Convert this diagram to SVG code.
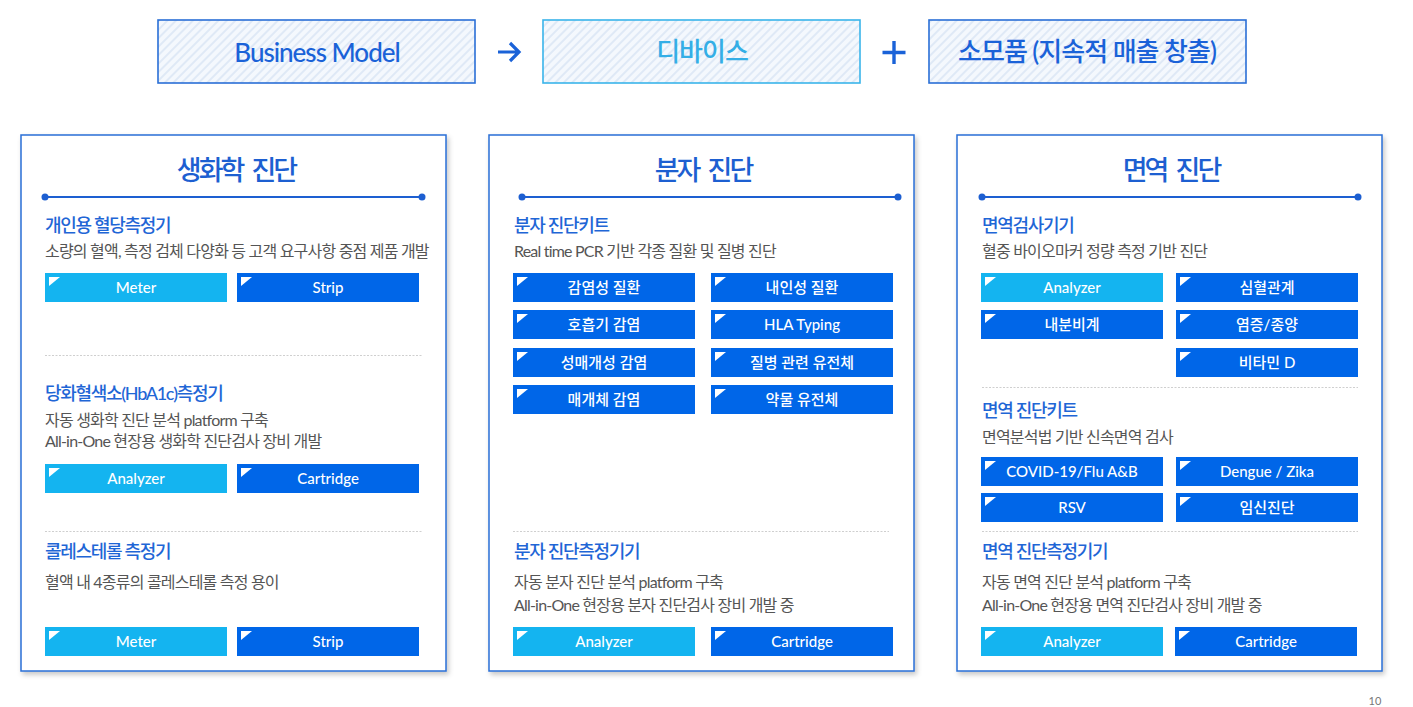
<svg xmlns="http://www.w3.org/2000/svg" width="1413" height="707" viewBox="0 0 1413 707">
<defs>
  <pattern id="hatch" patternUnits="userSpaceOnUse" width="6" height="6" patternTransform="rotate(45)">
    <rect width="6" height="6" fill="#f4f8fd"/>
    <rect width="2" height="6" fill="#dfe9f6"/>
  </pattern>
  <filter id="shadow" x="-5%" y="-5%" width="112%" height="112%">
    <feDropShadow dx="2" dy="3" stdDeviation="2.5" flood-color="#000" flood-opacity="0.22"/>
  </filter>
  <path id="tri" d="M4 4 H15 L4 13 Z" fill="#ffffff"/>
</defs>
<style>
  .top{stroke-width:1.6}
  .toptxt{font-family:Lato,"Noto Sans CJK KR",sans-serif;font-size:26px;font-weight:500;text-anchor:middle;letter-spacing:-1px}
  .panel{fill:#ffffff;stroke:#2a6fd6;stroke-width:1.5}
  .title{font-family:"Noto Sans CJK KR",sans-serif;font-size:27px;font-weight:500;fill:#1d5fd1;text-anchor:middle;letter-spacing:-3px;word-spacing:6px}
  .rule{stroke:#1d5fd1;stroke-width:2}
  .dot{fill:#1d5fd1}
  .hd{font-family:Lato,"Noto Sans CJK KR",sans-serif;font-size:18px;font-weight:500;fill:#1f66d6;letter-spacing:-1.3px}
  .ds{font-family:Lato,"Noto Sans CJK KR",sans-serif;font-size:16px;fill:#555555;letter-spacing:-0.8px}
  .sep{stroke:#cfcfcf;stroke-width:1;stroke-dasharray:2 1.5}
  .bl{fill:#14b4f0}
  .bd{fill:#0066e8}
  .bt{font-family:Lato,"Noto Sans CJK KR",sans-serif;font-size:15px;font-weight:500;fill:#ffffff;text-anchor:middle}
</style>
<rect width="1413" height="707" fill="#ffffff"/>

<!-- top row -->
<g id="node-business-model">
  <rect class="top" x="158" y="20" width="317" height="63" fill="url(#hatch)" stroke="#2a6fd6"/>
  <text class="toptxt" x="317" y="62" fill="#1a62d8">Business Model</text>
</g>
<g id="node-device">
  <rect class="top" x="543" y="20" width="317" height="63" fill="url(#hatch)" stroke="#3ab4ea"/>
  <text class="toptxt" x="702" y="61" fill="#34aee6">디바이스</text>
</g>
<g id="node-consumables">
  <rect class="top" x="929" y="20" width="317" height="63" fill="url(#hatch)" stroke="#2a6fd6"/>
  <text class="toptxt" x="1087" y="61" fill="#1a62d8">소모품 (지속적 매출 창출)</text>
</g>
<g id="connectors">
  <path d="M498 52 H519 M510 43 L519 52 L510 61" fill="none" stroke="#1a62d8" stroke-width="3.2"/>
  <path d="M894 41 V64 M882.5 52.5 H905.5" fill="none" stroke="#1a62d8" stroke-width="3.4"/>
</g>

<!-- panel 1 -->
<g id="panel-biochem">
  <rect class="panel" x="21" y="135" width="425" height="536" filter="url(#shadow)"/>
  <text class="title" x="236" y="180">생화학 진단</text>
  <line class="rule" x1="45" y1="197" x2="422" y2="197"/>
  <circle class="dot" cx="45" cy="197" r="3.5"/><circle class="dot" cx="422" cy="197" r="3.5"/>

  <text class="hd" x="45" y="232">개인용 혈당측정기</text>
  <text class="ds" x="45" y="257">소량의 혈액, 측정 검체 다양화 등 고객 요구사항 중점 제품 개발</text>
  <g id="btn-p1-meter"><rect class="bl" x="45" y="273" width="182" height="29"/><use href="#tri" x="45" y="273"/><text class="bt" x="136" y="293">Meter</text></g>
  <g id="btn-p1-strip"><rect class="bd" x="237" y="273" width="182" height="29"/><use href="#tri" x="237" y="273"/><text class="bt" x="328" y="293">Strip</text></g>

  <line class="sep" x1="45" y1="355.5" x2="422" y2="355.5"/>
  <text class="hd" x="45" y="400">당화혈색소(HbA1c)측정기</text>
  <text class="ds" x="45" y="426">자동 생화학 진단 분석 platform 구축</text>
  <text class="ds" x="45" y="447">All-in-One 현장용 생화학 진단검사 장비 개발</text>
  <g id="btn-p1-analyzer"><rect class="bl" x="45" y="464" width="182" height="29"/><use href="#tri" x="45" y="464"/><text class="bt" x="136" y="484">Analyzer</text></g>
  <g id="btn-p1-cartridge"><rect class="bd" x="237" y="464" width="182" height="29"/><use href="#tri" x="237" y="464"/><text class="bt" x="328" y="484">Cartridge</text></g>

  <line class="sep" x1="45" y1="531.5" x2="422" y2="531.5"/>
  <text class="hd" x="45" y="558">콜레스테롤 측정기</text>
  <text class="ds" x="45" y="588">혈액 내 4종류의 콜레스테롤 측정 용이</text>
  <g id="btn-p1-meter2"><rect class="bl" x="45" y="627" width="182" height="29"/><use href="#tri" x="45" y="627"/><text class="bt" x="136" y="647">Meter</text></g>
  <g id="btn-p1-strip2"><rect class="bd" x="237" y="627" width="182" height="29"/><use href="#tri" x="237" y="627"/><text class="bt" x="328" y="647">Strip</text></g>
</g>

<!-- panel 2 -->
<g id="panel-molecular">
  <rect class="panel" x="489" y="135" width="425" height="536" filter="url(#shadow)"/>
  <text class="title" x="703" y="180">분자 진단</text>
  <line class="rule" x1="522" y1="197" x2="898" y2="197"/>
  <circle class="dot" cx="522" cy="197" r="3.5"/><circle class="dot" cx="898" cy="197" r="3.5"/>

  <text class="hd" x="514" y="232">분자 진단키트</text>
  <text class="ds" x="514" y="257">Real time PCR 기반 각종 질환 및 질병 진단</text>
  <g id="btn-p2-1"><rect class="bd" x="513" y="273" width="182" height="29"/><use href="#tri" x="513" y="273"/><text class="bt" x="604" y="293">감염성 질환</text></g>
  <g id="btn-p2-2"><rect class="bd" x="711" y="273" width="182" height="29"/><use href="#tri" x="711" y="273"/><text class="bt" x="802" y="293">내인성 질환</text></g>
  <g id="btn-p2-3"><rect class="bd" x="513" y="310" width="182" height="29"/><use href="#tri" x="513" y="310"/><text class="bt" x="604" y="330">호흡기 감염</text></g>
  <g id="btn-p2-4"><rect class="bd" x="711" y="310" width="182" height="29"/><use href="#tri" x="711" y="310"/><text class="bt" x="802" y="330">HLA Typing</text></g>
  <g id="btn-p2-5"><rect class="bd" x="513" y="348" width="182" height="29"/><use href="#tri" x="513" y="348"/><text class="bt" x="604" y="368">성매개성 감염</text></g>
  <g id="btn-p2-6"><rect class="bd" x="711" y="348" width="182" height="29"/><use href="#tri" x="711" y="348"/><text class="bt" x="802" y="368">질병 관련 유전체</text></g>
  <g id="btn-p2-7"><rect class="bd" x="513" y="385" width="182" height="29"/><use href="#tri" x="513" y="385"/><text class="bt" x="604" y="405">매개체 감염</text></g>
  <g id="btn-p2-8"><rect class="bd" x="711" y="385" width="182" height="29"/><use href="#tri" x="711" y="385"/><text class="bt" x="802" y="405">약물 유전체</text></g>

  <line class="sep" x1="513" y1="531.5" x2="889" y2="531.5"/>
  <text class="hd" x="514" y="558">분자 진단측정기기</text>
  <text class="ds" x="514" y="588">자동 분자 진단 분석 platform 구축</text>
  <text class="ds" x="514" y="611">All-in-One 현장용 분자 진단검사 장비 개발 중</text>
  <g id="btn-p2-analyzer"><rect class="bl" x="513" y="627" width="182" height="29"/><use href="#tri" x="513" y="627"/><text class="bt" x="604" y="647">Analyzer</text></g>
  <g id="btn-p2-cartridge"><rect class="bd" x="711" y="627" width="182" height="29"/><use href="#tri" x="711" y="627"/><text class="bt" x="802" y="647">Cartridge</text></g>
</g>

<!-- panel 3 -->
<g id="panel-immuno">
  <rect class="panel" x="957" y="135" width="425" height="536" filter="url(#shadow)"/>
  <text class="title" x="1171" y="180">면역 진단</text>
  <line class="rule" x1="982" y1="197" x2="1358" y2="197"/>
  <circle class="dot" cx="982" cy="197" r="3.5"/><circle class="dot" cx="1358" cy="197" r="3.5"/>

  <text class="hd" x="982" y="232">면역검사기기</text>
  <text class="ds" x="982" y="257">혈중 바이오마커 정량 측정 기반 진단</text>
  <g id="btn-p3-analyzer"><rect class="bl" x="981" y="273" width="182" height="29"/><use href="#tri" x="981" y="273"/><text class="bt" x="1072" y="293">Analyzer</text></g>
  <g id="btn-p3-cardio"><rect class="bd" x="1176" y="273" width="182" height="29"/><use href="#tri" x="1176" y="273"/><text class="bt" x="1267" y="293">심혈관계</text></g>
  <g id="btn-p3-endo"><rect class="bd" x="981" y="310" width="182" height="29"/><use href="#tri" x="981" y="310"/><text class="bt" x="1072" y="330">내분비계</text></g>
  <g id="btn-p3-inflam"><rect class="bd" x="1176" y="310" width="182" height="29"/><use href="#tri" x="1176" y="310"/><text class="bt" x="1267" y="330">염증/종양</text></g>
  <g id="btn-p3-vitd"><rect class="bd" x="1176" y="348" width="182" height="29"/><use href="#tri" x="1176" y="348"/><text class="bt" x="1267" y="368">비타민 D</text></g>

  <line class="sep" x1="982" y1="387.5" x2="1358" y2="387.5"/>
  <text class="hd" x="982" y="417">면역 진단키트</text>
  <text class="ds" x="982" y="443">면역분석법 기반 신속면역 검사</text>
  <g id="btn-p3-covid"><rect class="bd" x="981" y="457" width="182" height="29"/><use href="#tri" x="981" y="457"/><text class="bt" x="1072" y="477">COVID-19/Flu A&amp;B</text></g>
  <g id="btn-p3-dengue"><rect class="bd" x="1176" y="457" width="182" height="29"/><use href="#tri" x="1176" y="457"/><text class="bt" x="1267" y="477">Dengue / Zika</text></g>
  <g id="btn-p3-rsv"><rect class="bd" x="981" y="493" width="182" height="29"/><use href="#tri" x="981" y="493"/><text class="bt" x="1072" y="513">RSV</text></g>
  <g id="btn-p3-preg"><rect class="bd" x="1176" y="493" width="182" height="29"/><use href="#tri" x="1176" y="493"/><text class="bt" x="1267" y="513">임신진단</text></g>

  <line class="sep" x1="982" y1="531.5" x2="1358" y2="531.5"/>
  <text class="hd" x="982" y="558">면역 진단측정기기</text>
  <text class="ds" x="982" y="588">자동 면역 진단 분석 platform 구축</text>
  <text class="ds" x="982" y="611">All-in-One 현장용 면역 진단검사 장비 개발 중</text>
  <g id="btn-p3-analyzer2"><rect class="bl" x="981" y="627" width="182" height="29"/><use href="#tri" x="981" y="627"/><text class="bt" x="1072" y="647">Analyzer</text></g>
  <g id="btn-p3-cartridge"><rect class="bd" x="1175" y="627" width="182" height="29"/><use href="#tri" x="1175" y="627"/><text class="bt" x="1266" y="647">Cartridge</text></g>
</g>

<text x="1375" y="705" font-family="Lato,sans-serif" font-size="11" fill="#777777" text-anchor="middle">10</text>
</svg>
